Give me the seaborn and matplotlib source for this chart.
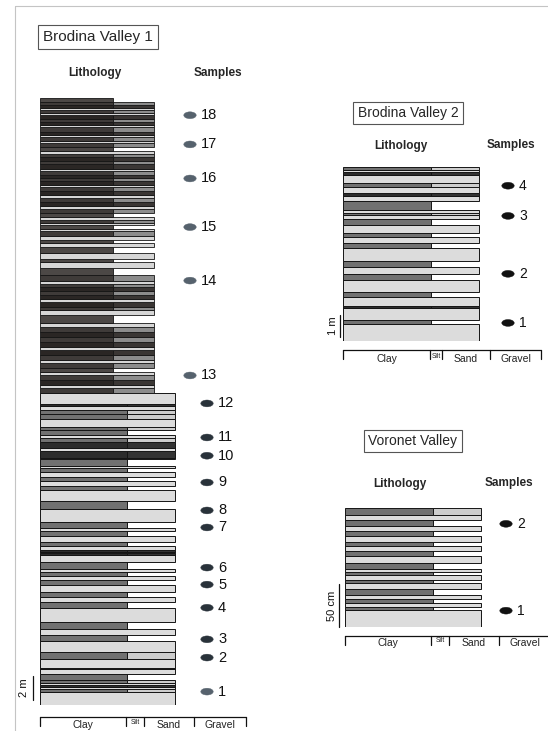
"""
Lithological logs of Brodina Valley 1, Brodina Valley 2 and Voronet Valley
"""
import matplotlib
matplotlib.use("Agg")
import matplotlib.pyplot as plt
import numpy as np
import seaborn as sns
from matplotlib.markers import MarkerStyle
from matplotlib.path import Path
from matplotlib.transforms import Affine2D

W, H = 548, 731

# grain-size scale of the logs (width units)
GRAIN_CLASSES = ["Clay", "Silt", "Sand", "Gravel"]
GRAIN_EDGES = [0, 86, 104, 154, 206]
BV2_GRAIN_EDGES = [0, 87, 99, 147, 198]

# layers listed from the base upwards: lithology code + thickness (m)
# S/L sand, C clay, M clay with sandy lamina, D dark laminated clay
BV1_LOWER_LITH = "SMSDSMCSDS" "MSCSCSCSCS" "CSCSCSDSDS" "CSCSCSCSCS" "CSCSCSDSDM" "SCMSMMSDS"
BV1_LOWER_THICK = [1.07, .25, .15, .20, .15, .25, .50, .40, .10, .75,
                   .55, .90, .50, .50, .55, 1.15, .50, .40, .40, .60,
                   .40, .30, .35, .25, .55, .60, .15, .12, .15, .35,
                   .30, .50, .40, .25, .55, 1.00, .65, .90, .35, .40,
                   .35, .40, .35, .20, .50, .15, .55, .25, .50, .30,
                   .25, .40, .30, .60, .40, .35, .35, .20, .85]
BV1_UPPER_LITH = "MLDMLCMLMD" "LDMDMLCLMD" "LDMDMLMCLC" "LCLCLMLCLM" "LCMLDMLDML" "DMDMLDMDML" "CMLMLDMLDM" "DLMLDMC"
BV1_UPPER_THICK = [.41, .25, .41, .41, .25, .33, .41, .25, .41, .41,
                   .30, .41, .41, .41, .41, .33, .60, .40, .30, .41,
                   .25, .30, .30, .33, .30, .25, .49, .55, .50, .25,
                   .50, .45, .33, .25, .33, .41, .16, .33, .16, .30,
                   .25, .33, .30, .25, .33, .30, .25, .33, .33, .16,
                   .33, .30, .25, .33, .16, .41, .25, .33, .25, .25,
                   .33, .33, .16, .33, .16, .25, .41, .16, .25, .25,
                   .33, .16, .25, .16, .25, .25, .33]
BV1_SAMPLE_IDS = list(range(1, 19))
BV1_SAMPLE_H = [1.1, 3.9, 5.4, 8.0, 9.9, 11.3, 14.6, 16.0, 18.3, 20.5,
                22.0, 24.8, 27.1, 34.9, 39.3, 43.3, 46.1, 48.5]

BV2_LITH = "SCSDSCSCSCSCSCSCSMSCSDSMSDSM"
BV2_THICK = [.76, .18, .58, .06, .42, .23, .53, .29, .29, .29,
             .58, .25, .25, .21, .35, .26, .20, .10, .12, .41,
             .23, .12, .27, .18, .38, .12, .10, .15]
BV2_SAMPLE_IDS = [1, 2, 3, 4]
BV2_SAMPLE_H = [0.82, 3.05, 5.68, 7.05]

VV_LITH = "SCSCSCSCSCSCSCSCSCSCSM"
VV_THICK = [.193, .040, .047, .047, .050, .066, .070, .038, .058, .031, .038,
            .066, .077, .066, .050, .047, .078, .050, .058, .078, .058, .078]
VV_SAMPLE_IDS = [1, 2]
VV_SAMPLE_H = [0.19, 1.20]

assert len(BV1_LOWER_LITH) == len(BV1_LOWER_THICK)
assert len(BV1_UPPER_LITH) == len(BV1_UPPER_THICK)
assert len(BV2_LITH) == len(BV2_THICK)
assert len(VV_LITH) == len(VV_THICK)

sns.set_style("white")
plt.rcParams["font.family"] = ["Liberation Sans", "DejaVu Sans"]

LOWER_COLORS = {"S": ("#dcdcdc", None), "L": ("#dcdcdc", None), "C": ("#717171", None),
                "M": ("#717171", "#cdcdcd"), "D": ("#2c2c2c", "#333333")}
UPPER_COLORS = {"S": ("#d6d6d6", None), "L": ("#d6d6d6", None), "C": ("#4c4846", None),
                "M": ("#3f3b39", "#8c8c8c"), "D": ("#2a2624", "#3a3634")}


def px_box(left, top, right, bottom):
    return [left / W, 1 - bottom / H, (right - left) / W, (bottom - top) / H]


def draw_log(ax, lith, thick, clay_w, full_w, colors, base=0.0, lw=0.7):
    thick = np.asarray(thick, float)
    bottoms = base + np.concatenate([[0.0], np.cumsum(thick)[:-1]])
    for code, b, t in zip(lith, bottoms, thick):
        left_c, right_c = colors[code]
        if right_c is None:
            w = full_w if code in "SL" else clay_w
            ax.barh(b, w, height=t, left=0, align="edge", color=left_c,
                    edgecolor="#151515", linewidth=lw)
        else:
            ax.barh(b, clay_w, height=t, left=0, align="edge", color=left_c,
                    edgecolor="#151515", linewidth=lw)
            ax.barh(b, full_w - clay_w, height=t, left=clay_w, align="edge",
                    color=right_c, edgecolor="#151515", linewidth=lw)
    return base + thick.sum()


def grain_bracket(ax, gap_px, height_px, label_px, edges=GRAIN_EDGES, fs=7.5):
    tr = ax.get_xaxis_transform()
    y0 = -gap_px / height_px
    y1 = -(gap_px + 9) / height_px
    ax.plot([edges[0], edges[-1]], [y0, y0], color="#111", lw=0.9,
            transform=tr, clip_on=False)
    for e in edges:
        ax.plot([e, e], [y0, y1], color="#111", lw=0.9, transform=tr, clip_on=False)
    yl = -label_px / height_px
    for name, a, b in zip(GRAIN_CLASSES, edges[:-1], edges[1:]):
        if name == "Silt":
            ax.text((a + b) / 2, yl + 3 / height_px, name, fontsize=4.8, ha="center",
                    va="center", transform=tr, color="#222")
        else:
            ax.text((a + b) / 2, yl, name, fontsize=fs, ha="center", va="center",
                    transform=tr, color="#222")


ellipse = MarkerStyle(Path.unit_circle().transformed(Affine2D().scale(1.0, 0.55)))


def samples(ax, xs, hs, ids, colors, fs=10.5):
    sns.scatterplot(x=xs, y=hs, marker=ellipse, s=80, c=colors, edgecolor=colors,
                    linewidth=0.3, ax=ax, legend=False, clip_on=False, zorder=5)
    for x, h, i in zip(xs, hs, ids):
        ax.text(x + 11, h, str(i), fontsize=fs, ha="left", va="center", color="#111")


def scale_bar(ax, x, y0, y1, text_x, label):
    ax.plot([x, x], [y0, y1], color="#111", lw=0.9, clip_on=False)
    ax.text(text_x, (y0 + y1) / 2, label, rotation=90, fontsize=8, ha="center",
            va="center", color="#111")


fig = plt.figure(figsize=(W / 100, H / 100), dpi=100)

# page frame
fig.add_artist(plt.Line2D([15 / W, 1], [1 - 6 / H, 1 - 6 / H], color="#c4c4c4", lw=0.8))
fig.add_artist(plt.Line2D([15 / W, 15 / W], [0, 1 - 6 / H], color="#c4c4c4", lw=0.8))

# ---- Brodina Valley 1
ax1 = fig.add_axes(px_box(40, 97, 246, 705))
top_lower = draw_log(ax1, BV1_LOWER_LITH, BV1_LOWER_THICK, 87, 135, LOWER_COLORS)
draw_log(ax1, BV1_UPPER_LITH, BV1_UPPER_THICK, 73, 114, UPPER_COLORS, base=top_lower, lw=0.6)
ax1.set_xlim(0, 206)
ax1.set_ylim(0, 50)
bv1_x = [167 if i <= 12 else 150 for i in BV1_SAMPLE_IDS]
bv1_c = ["#56626d" if (i == 1 or i >= 13) else "#29323a" for i in BV1_SAMPLE_IDS]
samples(ax1, bv1_x, BV1_SAMPLE_H, BV1_SAMPLE_IDS, bv1_c)
grain_bracket(ax1, 12, 608, 20)
scale_bar(ax1, -7, 0.4, 2.4, -16, "2 m")
ax1.axis("off")

fig.text(98 / W, 1 - 37 / H, "Brodina Valley 1", fontsize=11, ha="center", va="center",
         bbox=dict(boxstyle="square,pad=0.3", fc="white", ec="#555", lw=0.8))
fig.text(95 / W, 1 - 73 / H, "Lithology", fontsize=8.5, fontweight="bold",
         ha="center", va="center")
fig.text(218 / W, 1 - 73 / H, "Samples", fontsize=8.5, fontweight="bold",
         ha="center", va="center")

# ---- Brodina Valley 2
ax2 = fig.add_axes(px_box(343, 167, 549, 341))
draw_log(ax2, BV2_LITH, BV2_THICK, 88, 136, LOWER_COLORS)
ax2.set_xlim(0, 206)
ax2.set_ylim(0, 7.9)
samples(ax2, [165] * len(BV2_SAMPLE_IDS), BV2_SAMPLE_H, BV2_SAMPLE_IDS, ["#111"] * 4, fs=10)
grain_bracket(ax2, 9, 174, 18, edges=BV2_GRAIN_EDGES)
scale_bar(ax2, -3, 0.2, 1.2, -10, "1 m")
ax2.axis("off")

fig.text(408 / W, 1 - 113 / H, "Brodina Valley 2", fontsize=10, ha="center", va="center",
         bbox=dict(boxstyle="square,pad=0.3", fc="white", ec="#555", lw=0.8))
fig.text(401 / W, 1 - 146 / H, "Lithology", fontsize=8.5, fontweight="bold",
         ha="center", va="center")
fig.text(511 / W, 1 - 145 / H, "Samples", fontsize=8.5, fontweight="bold",
         ha="center", va="center")

# ---- Voronet Valley
ax3 = fig.add_axes(px_box(345, 508, 551, 627))
draw_log(ax3, VV_LITH, VV_THICK, 88, 136, LOWER_COLORS)
ax3.set_xlim(0, 206)
ax3.set_ylim(0, 1.384)
samples(ax3, [161] * len(VV_SAMPLE_IDS), VV_SAMPLE_H, VV_SAMPLE_IDS, ["#111"] * 2, fs=10)
grain_bracket(ax3, 9, 119, 16)
scale_bar(ax3, -6, 0.0, 0.5, -13, "50 cm")
ax3.axis("off")

fig.text(413 / W, 1 - 441 / H, "Voronet Valley", fontsize=10, ha="center", va="center",
         bbox=dict(boxstyle="square,pad=0.3", fc="white", ec="#555", lw=0.8))
fig.text(400 / W, 1 - 484 / H, "Lithology", fontsize=8.5, fontweight="bold",
         ha="center", va="center")
fig.text(509 / W, 1 - 483 / H, "Samples", fontsize=8.5, fontweight="bold",
         ha="center", va="center")

fig.savefig("out.png", dpi=100)
